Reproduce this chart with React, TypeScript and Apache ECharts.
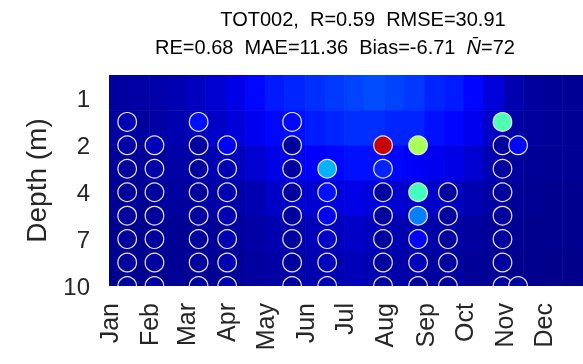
import React, { useEffect, useRef } from "react";
import * as echarts from "echarts";

const months = ["Jan", "Feb", "Mar", "Apr", "May", "Jun", "Jul", "Aug", "Sep", "Oct", "Nov", "Dec"];
const monthStartDays = [0, 31, 59, 90, 120, 151, 181, 212, 243, 273, 304, 334];
const yearDays = 365;

// depth rows (index positions on the y axis)
const depthTickIndex = [0, 2, 4, 6, 8];
const depthTickLabels = ["1", "2", "4", "7", "10"];

// observation sample days (day of year) and values for rows 1..8 (null = no sample)
const sampleDays = [14, 35, 69, 91, 141, 168, 211, 238, 261, 303, 315];
const sampleRows = [1, 2, 3, 4, 5, 6, 7, 8];
const obsJan = [5, 4, 3, 3, 3, 3, 3, 3];
const obsFeb = [null, 6, 4, 3, 3, 3, 3, 3];
const obsMar = [14, 3, 3, 3, 3, 3, 3, 3];
const obsApr = [null, 12, 5, 5, 5, 5, 5, 5];
const obsMay = [13, 3, 3, 3, 3, 3, 3, 3];
const obsJun = [null, null, 30, 14, 11, 7, 6, 5];
const obsJul = [null, 93, 16, 3, 3, 3, 3, 3];
const obsAug = [null, 54, null, 44, 25, 12, 6, 3];
const obsSep = [null, null, null, 3, 3, 3, 3, 3];
const obsOct = [45, 3, 3, 3, 3, 3, 3, 3];
const obsNov = [null, 13, null, null, null, null, null, 3];
const obsColumns = [obsJan, obsFeb, obsMar, obsApr, obsMay, obsJun, obsJul, obsAug, obsSep, obsOct, obsNov];

// model background: half-month bins x depth bands
const bgBinStarts = [0, 15, 31, 45, 59, 74, 90, 105, 120, 135, 151, 166, 181, 196, 212, 227, 243, 258, 273, 288, 304, 319, 334, 349];
const bgBandEdges = [-1, 0.5, 2, 3.5, 5, 6.5, 8];
const bgBand1 = [3, 3.5, 4, 5, 6, 8, 10, 13, 15, 16, 17, 18, 19, 20, 19, 18, 16, 15, 13, 9, 5, 3, 2.5, 2];
const bgBand2 = [3, 3, 3.5, 4.5, 5.5, 7, 9, 11, 13, 14, 15, 16, 17, 17, 16, 16, 14, 13, 11, 7, 4, 3, 2.5, 2];
const bgBand3 = [2.5, 2.5, 3, 3.5, 4, 5, 6, 8, 10, 11, 12, 13, 14, 14, 13, 12, 11, 10, 8, 5, 3, 2.5, 2, 2];
const bgBand4 = [2, 2, 2.5, 3, 3, 3.5, 4, 5, 7, 8, 8, 9, 10, 9, 8, 7, 7, 6, 5, 3.5, 2.5, 2, 1.5, 1.5];
const bgBand5 = [1.5, 1.5, 2, 2, 2.5, 2.5, 3, 3.5, 4.5, 5, 5.5, 6, 7, 6, 5, 4.5, 4, 3.5, 3, 2.5, 2, 1.5, 1.5, 1.5];
const bgBand6 = [1.5, 1.5, 1.5, 2, 2, 2, 2.5, 3, 3.5, 4, 4.5, 5, 5.5, 5, 4, 3.5, 3, 3, 2.5, 2, 1.5, 1.5, 1, 1];
const bgBands = [bgBand1, bgBand2, bgBand3, bgBand4, bgBand5, bgBand6];

const jet = ["#000080", "#0000ff", "#0080ff", "#00ffff", "#80ff80", "#ffff00", "#ff8000", "#ff0000", "#800000"];

const titleLine1 = "TOT002,  R=0.59  RMSE=30.91";
const titleLine2 = "RE=0.68  MAE=11.36  Bias=-6.71  {i|N\u0304}=72";

export default function App() {
  const ref = useRef<HTMLDivElement>(null);
  useEffect(() => {
    if (!ref.current) return;
    const chart = echarts.init(ref.current, null, { renderer: "svg" });

    const bgData: number[][] = [];
    bgBands.forEach((band, b) => {
      band.forEach((v, i) => {
        const x0 = bgBinStarts[i];
        const x1 = i + 1 < bgBinStarts.length ? bgBinStarts[i + 1] : yearDays;
        bgData.push([x0, bgBandEdges[b], v, x1, bgBandEdges[b + 1]]);
      });
    });

    const obsData: number[][] = [];
    obsColumns.forEach((col, c) => {
      col.forEach((v, r) => {
        if (v !== null) obsData.push([sampleDays[c], sampleRows[r], v as number]);
      });
    });

    const font = "'Liberation Sans', Arial, sans-serif";

    chart.setOption({
      animation: false,
      grid: { left: 109, right: 0, top: 75, bottom: 78, containLabel: false },
      visualMap: {
        type: "continuous",
        show: false,
        min: 0,
        max: 100,
        dimension: 2,
        seriesIndex: [0, 1],
        inRange: { color: jet },
      },
      xAxis: {
        type: "value",
        min: 0,
        max: yearDays,
        axisLine: { show: false },
        axisTick: { show: false },
        splitLine: { show: false },
        axisLabel: {
          customValues: monthStartDays,
          rotate: 90,
          margin: 17,
          fontSize: 25,
          fontFamily: font,
          color: "#262626",
          formatter: (v: number) => months[monthStartDays.indexOf(v)] ?? "",
        },
      },
      yAxis: {
        type: "value",
        inverse: true,
        min: -1,
        max: 8,
        name: "Depth (m)",
        nameLocation: "middle",
        nameRotate: 90,
        nameGap: 59,
        nameTextStyle: { fontSize: 28, fontFamily: font, color: "#262626" },
        axisLine: { show: false },
        axisTick: { show: false },
        splitLine: { show: false },
        axisLabel: {
          customValues: depthTickIndex,
          margin: 19,
          fontSize: 24,
          fontFamily: font,
          color: "#262626",
          formatter: (v: number) => depthTickLabels[depthTickIndex.indexOf(v)] ?? "",
        },
      },
      graphic: [
        {
          type: "text",
          x: 363,
          y: 19,
          style: {
            text: titleLine1,
            align: "center",
            verticalAlign: "middle",
            fontSize: 20,
            fontFamily: font,
            fill: "#000",
          },
        },
        {
          type: "text",
          x: 335,
          y: 47,
          style: {
            text: titleLine2,
            align: "center",
            verticalAlign: "middle",
            fontSize: 20,
            fontFamily: font,
            fill: "#000",
            rich: { i: { fontStyle: "italic", fontSize: 20, fontFamily: font, fill: "#000" } },
          },
        },
      ],
      series: [
        {
          type: "custom",
          clip: true,
          encode: { x: [0, 3], y: [1, 4] },
          data: bgData,
          renderItem: (params: any, api: any) => {
            const p0 = api.coord([api.value(0), api.value(1)]);
            const p1 = api.coord([api.value(3), api.value(4)]);
            return {
              type: "rect",
              shape: { x: p0[0], y: p0[1], width: p1[0] - p0[0] + 0.6, height: p1[1] - p0[1] + 0.6 },
              style: { fill: api.visual("color") },
            };
          },
          z: 1,
        },
        {
          type: "custom",
          clip: true,
          encode: { x: 0, y: 1 },
          data: obsData,
          renderItem: (params: any, api: any) => {
            const p = api.coord([api.value(0), api.value(1)]);
            return {
              type: "circle",
              shape: { cx: p[0], cy: p[1], r: 9.3 },
              style: { fill: api.visual("color"), stroke: "#e4e4ee", lineWidth: 1.2 },
            };
          },
          z: 2,
        },
      ],
    });
    return () => chart.dispose();
  }, []);
  return <div ref={ref} style={{ position: "fixed", left: 0, top: 0, width: 583, height: 364 }} />;
}
